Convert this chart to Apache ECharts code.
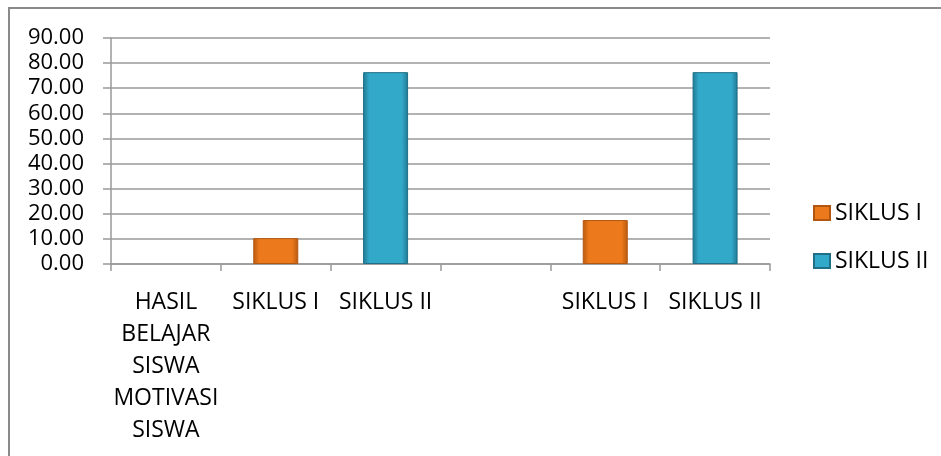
<!DOCTYPE html>
<html>
<head>
<meta charset="utf-8">
<script src="https://cdn.jsdelivr.net/npm/echarts@6/dist/echarts.min.js"></script>
<style>html,body{margin:0;padding:0;background:#fff;}#c{width:941px;height:456px;}</style>
</head>
<body>
<div id="c"></div>
<script>
var categories = ['HASIL\nBELAJAR\nSISWA\nMOTIVASI\nSISWA', 'SIKLUS I', 'SIKLUS II', '', 'SIKLUS I', 'SIKLUS II'];
var seriesNames = ['SIKLUS I', 'SIKLUS II'];
var siklus1 = [null, 10.3, null, null, 17.5, null];
var siklus2 = [null, null, 76.4, null, null, 76.4];
var yTicks = { min: 0, max: 90, interval: 10 };

function bevel(mid, edge) {
  return {
    type: 'linear', x: 0, y: 0, x2: 1, y2: 0,
    colorStops: [
      { offset: 0, color: edge },
      { offset: 0.14, color: mid },
      { offset: 0.86, color: mid },
      { offset: 1, color: edge }
    ]
  };
}

var chart = echarts.init(document.getElementById('c'));
var font = '"Open Sans", sans-serif';
chart.setOption({
  animation: false,
  backgroundColor: '#fff',
  textStyle: { fontFamily: font },
  graphic: [{
    type: 'rect', silent: true,
    shape: { x: 9, y: 8, width: 1200, height: 1200 },
    style: { fill: 'none', stroke: '#8a8a8a', lineWidth: 2 }
  }],
  grid: { left: 111, right: 171, top: 38, bottom: 192, containLabel: false },
  legend: {
    orient: 'vertical',
    left: 813, top: 198, padding: 0,
    itemWidth: 16, itemHeight: 14, itemGap: 18,
    icon: 'rect',
    textStyle: { fontFamily: font, fontSize: 23, color: '#000', lineHeight: 30 },
    data: seriesNames
  },
  xAxis: {
    type: 'category',
    data: categories,
    boundaryGap: true,
    axisLine: { show: true, lineStyle: { color: '#999', width: 1.5 } },
    axisTick: { show: true, length: 7, lineStyle: { color: '#999', width: 1.5 } },
    axisLabel: { interval: 0, fontFamily: font, fontSize: 23, color: '#000', lineHeight: 32, margin: 22 }
  },
  yAxis: {
    type: 'value',
    min: yTicks.min, max: yTicks.max, interval: yTicks.interval,
    axisLine: { show: true, lineStyle: { color: '#999', width: 1.5 } },
    axisTick: { show: true, length: 8, lineStyle: { color: '#999', width: 1.5 } },
    splitLine: { show: true, lineStyle: { color: '#999', width: 1.5 } },
    axisLabel: {
      fontFamily: font, fontSize: 22, color: '#000', margin: 27,
      formatter: function (v) { return v.toFixed(2); }
    }
  },
  series: [
    {
      name: seriesNames[0], type: 'bar', data: siklus1,
      barWidth: 45, barGap: '-100%',
      itemStyle: { color: bevel('#ec7a1c', '#b9590f'), borderColor: '#b25610', borderWidth: 1 }
    },
    {
      name: seriesNames[1], type: 'bar', data: siklus2,
      barWidth: 45, barGap: '-100%',
      itemStyle: { color: bevel('#33a9c9', '#1f7892'), borderColor: '#1e6f87', borderWidth: 1 }
    }
  ]
});
</script>
</body>
</html>
